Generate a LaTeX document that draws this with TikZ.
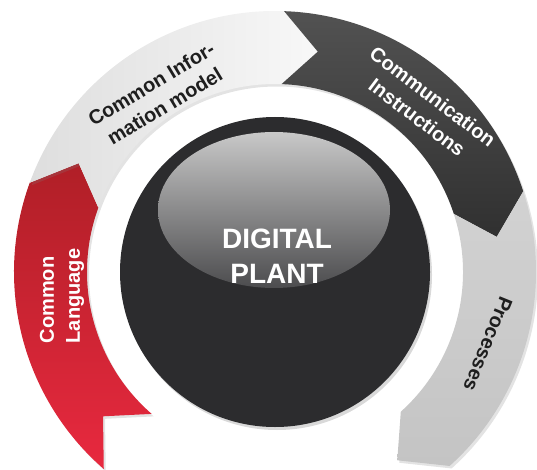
\documentclass[tikz,border=0pt]{standalone}
\usepackage{xcolor}
\usepackage{fontspec}
\setmainfont{Liberation Sans}
\usepackage{tikz}
\usetikzlibrary{shadows}

\definecolor{redTop}{HTML}{B01F27}
\definecolor{redBot}{HTML}{E8293F}
\definecolor{paleLeft}{HTML}{DEDEDE}
\definecolor{paleRight}{HTML}{F8F8F8}
\definecolor{darkTop}{HTML}{525252}
\definecolor{darkBot}{HTML}{303030}
\definecolor{greyTop}{HTML}{D2D2D2}
\definecolor{greyBot}{HTML}{C4C4C4}
\definecolor{ballDark}{HTML}{2C2C2E}
\definecolor{glossTop}{HTML}{C8C8C8}
\definecolor{glossBot}{HTML}{4C4C4E}
\definecolor{inkDark}{HTML}{1E1E1E}

% ring radii (inner, outer, middle) in px
\newcommand{\Rin}{188}
\newcommand{\Rout}{261}
\newcommand{\Rmid}{224.5}
% one curved arrow of the ring: start angle, end angle, style
\newcommand{\ringarrow}[3]{%
    \path[#3] (#1:\Rout) arc[start angle=#1, end angle=#2, radius=\Rout]
        -- ({#2-9}:\Rmid) -- (#2:\Rin)
        arc[start angle=#2, end angle=#1, radius=\Rin]
        -- ({#1-9}:\Rmid) -- cycle;%
}

\tikzset{
    ring_shadow/.style={
        drop shadow={opacity=0.22, shadow xshift=2pt, shadow yshift=-2.5pt}
    },
    arrow_red/.style={
        ring_shadow, top color=redTop, bottom color=redBot
    },
    arrow_pale/.style={
        ring_shadow, left color=paleLeft, right color=paleRight
    },
    arrow_dark/.style={
        ring_shadow, top color=darkTop, bottom color=darkBot
    },
    arrow_grey/.style={
        ring_shadow, top color=greyTop, bottom color=greyBot
    },
    label_light/.style={
        align=center, text=white, font=\fontsize{20}{26}\selectfont\bfseries
    },
    label_dark/.style={
        align=center, text=inkDark, font=\fontsize{20}{26}\selectfont\bfseries
    },
    title/.style={
        align=center, text=white, font=\fontsize{28}{35}\selectfont\bfseries
    }
}

\begin{document}
\begin{tikzpicture}[x=1pt, y=1pt]
    \useasboundingbox (0,0) rectangle (537,469);
    \clip (0,0) rectangle (537,469);

    \begin{scope}[shift={(275,197)}]
        % the four arrows, clockwise
        \ringarrow{229}{160}{arrow_red}
        \ringarrow{160}{88}{arrow_pale}
        \ringarrow{88}{18}{arrow_dark}
        \ringarrow{18}{-48}{arrow_grey}

        % central ball with its gloss
        \fill[ballDark, drop shadow={opacity=0.3, shadow xshift=2pt, shadow yshift=-3pt}] (0,0) circle[radius=155];
        \shade[top color=glossTop, bottom color=glossBot] (-1,62) ellipse[x radius=116, y radius=78];
    \end{scope}

    \node[label_dark, rotate=31] (info) at (158,374) {Common Infor-\\mation model};
    \node[label_light, rotate=-37] (comm) at (425,362) {Communication\\Instructions};
    \node[label_light, align=left, rotate=90] (lang) at (62,173) {Common\\Language};
    \node[label_dark, rotate=-112] (proc) at (488,125) {Processes};
    \node[title] (plant) at (277,213) {DIGITAL\\PLANT};
\end{tikzpicture}
\end{document}
